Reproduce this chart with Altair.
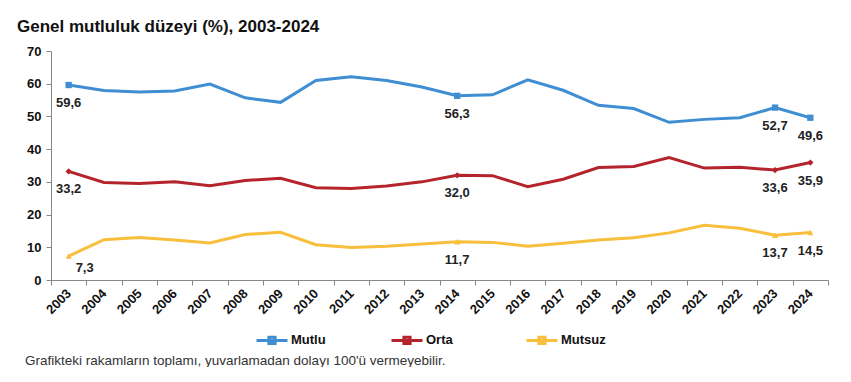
import altair as alt
import pandas as pd

years = list(range(2003, 2025))
mutlu = [59.6, 57.9, 57.5, 57.8, 59.9, 55.7, 54.3, 61.0, 62.1, 61.0, 59.0, 56.3,
         56.6, 61.2, 58.0, 53.4, 52.4, 48.2, 49.1, 49.6, 52.7, 49.6]
orta = [33.2, 29.8, 29.5, 30.0, 28.8, 30.4, 31.1, 28.2, 28.0, 28.7, 30.0, 32.0,
        31.9, 28.5, 30.8, 34.4, 34.7, 37.4, 34.2, 34.5, 33.6, 35.9]
mutsuz = [7.3, 12.3, 13.0, 12.2, 11.3, 13.9, 14.6, 10.8, 9.9, 10.3, 11.0, 11.7,
          11.5, 10.3, 11.2, 12.2, 12.9, 14.4, 16.7, 15.8, 13.7, 14.5]
series = ["Mutlu", "Orta", "Mutsuz"]
colors = ["#3F8ED3", "#B5242C", "#F7BF3C"]
shapes = ["square", "diamond", "triangle-up"]
labeled_years = [2003, 2014, 2023, 2024]
title_text = "Genel mutluluk düzeyi (%), 2003-2024"
footnote = "Grafikteki rakamların toplamı, yuvarlamadan dolayı 100'ü vermeyebilir."

rows = []
for name, vals in zip(series, [mutlu, orta, mutsuz]):
    for y, v in zip(years, vals):
        rows.append({"year": str(y), "series": name, "marker": name, "value": v,
                     "labeled": y in labeled_years})
df = pd.DataFrame(rows)

FONT = "Liberation Sans"

x_enc = alt.X("year:N", bandPosition=0.5,
              scale=alt.Scale(type="band", paddingInner=0, paddingOuter=0),
              axis=alt.Axis(title=None, labelAngle=-45, labelAlign="right",
                            labelBaseline="middle", labelFontWeight="bold",
                            labelFontSize=13, labelFont=FONT, labelColor="#111",
                            tickBand="extent", ticks=True, tickSize=5,
                            tickColor="#888", domainColor="#888",
                            labelPadding=6, labelOverlap=False))
y_enc = alt.Y("value:Q",
              scale=alt.Scale(domain=[0, 70], nice=False),
              axis=alt.Axis(title=None, values=list(range(0, 71, 10)),
                            labelFontWeight="bold", labelFontSize=13,
                            labelFont=FONT, labelColor="#111", grid=False,
                            tickSize=5, tickColor="#888", domainColor="#888",
                            labelPadding=5))
color_enc = alt.Color("series:N",
                      scale=alt.Scale(domain=series, range=colors),
                      legend=alt.Legend(
                          title=None, orient="none", direction="horizontal",
                          legendX=204, legendY=272, padding=0,
                          gridAlign="all",
                          symbolType="M-1,0L1,0M-0.2,-0.2L0.2,-0.2L0.2,0.2L-0.2,0.2Z",
                          symbolSize=961, symbolStrokeWidth=3,
                          labelFont=FONT, labelFontSize=13,
                          labelFontWeight="bold", labelColor="#111",
                          labelOffset=2, columnPadding=49))

base = alt.Chart(df)

lines = base.mark_line(strokeWidth=3).encode(
    x=x_enc, y=y_enc, color=color_enc, detail="series:N")

points = base.transform_filter("datum.labeled").mark_point(
    filled=True, size=40, opacity=1).encode(
    x=x_enc, y=y_enc,
    fill=alt.Fill("marker:N", scale=alt.Scale(domain=series, range=colors),
                  legend=None),
    shape=alt.Shape("marker:N", scale=alt.Scale(domain=series, range=shapes),
                    legend=None))

lab_base = base.transform_filter("datum.labeled").transform_calculate(
    lab="replace(format(datum.value, '.1f'), '.', ',')")

labels = lab_base.transform_filter(
    "!(datum.year == '2003' && datum.series == 'Mutsuz')").mark_text(
    dy=18, font=FONT, fontSize=13, fontWeight="bold", color="#222").encode(
    x=x_enc, y=y_enc, text="lab:N")

label_73 = lab_base.transform_filter(
    "datum.year == '2003' && datum.series == 'Mutsuz'").mark_text(
    dy=12, dx=16, font=FONT, fontSize=13, fontWeight="bold", color="#222").encode(
    x=x_enc, y=y_enc, text="lab:N")

foot = alt.Chart(pd.DataFrame({"t": [footnote]})).mark_text(
    align="left", baseline="alphabetic", font=FONT, fontSize=13.5,
    color="#333").encode(text="t:N", x=alt.value(-26), y=alt.value(314))

chart = alt.layer(lines, points, labels, label_73, foot).resolve_scale(
    color="independent").properties(
    width=777, height=229,
    autosize=alt.AutoSizeParams(type="none"),
    padding={"left": 43, "top": 43, "right": 10, "bottom": 87},
    title=alt.TitleParams(title_text, anchor="start", frame="group",
                          font=FONT, fontSize=17, fontWeight="bold",
                          color="#111", dx=-34, offset=9),
).configure_view(stroke=None)

chart.save("out.html", embed_options={"renderer": "svg", "actions": False})
